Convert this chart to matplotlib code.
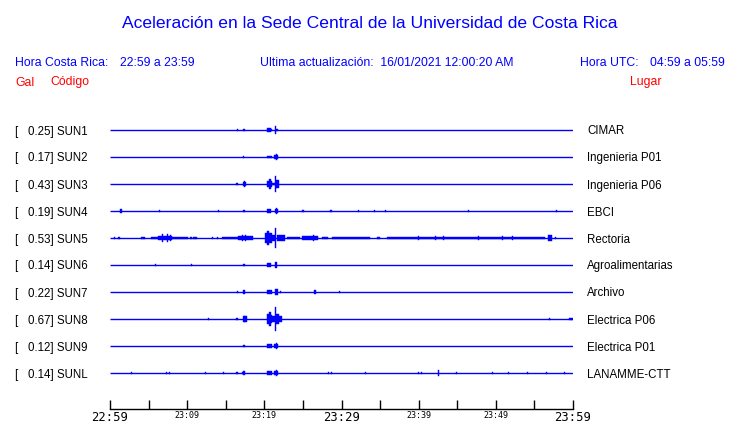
import matplotlib
matplotlib.use("Agg")
import matplotlib.pyplot as plt

# stations, top to bottom
codes = ["SUN1", "SUN2", "SUN3", "SUN4", "SUN5", "SUN6", "SUN7", "SUN8", "SUN9", "SUNL"]
gals = [0.25, 0.17, 0.43, 0.19, 0.53, 0.14, 0.22, 0.67, 0.12, 0.14]
places = ["CIMAR", "Ingenieria P01", "Ingenieria P06", "EBCI", "Rectoria",
          "Agroalimentarias", "Archivo", "Electrica P06", "Electrica P01", "LANAMME-CTT"]

# time axis, minutes after 22:59
tick_minutes = [0, 10, 20, 30, 40, 50, 60]
tick_labels = ["22:59", "23:09", "23:19", "23:29", "23:39", "23:49", "23:59"]
minor_minutes = [5, 15, 25, 35, 45, 55]

# bursts per trace: (start minute, end minute, half amplitude in row units)
sun1 = [(16.42, 16.42, 0.02), (17.24, 17.46, 0.05), (20.35, 20.83, 0.085),
        (20.83, 20.99, 0.04), (21.38, 21.55, 0.15), (21.55, 21.77, 0.055)]
sun2 = [(17.24, 17.40, 0.05), (20.35, 20.95, 0.05), (21.29, 21.81, 0.075),
        (21.47, 21.55, 0.12)]
sun3 = [(16.33, 16.55, 0.05), (17.20, 17.66, 0.075), (17.33, 17.46, 0.12),
        (20.35, 20.54, 0.12), (20.54, 20.80, 0.18), (20.80, 20.99, 0.10),
        (20.99, 21.38, 0.05), (21.38, 21.55, 0.31), (21.55, 21.90, 0.15)]
sun4 = [(1.26, 1.59, 0.075), (6.39, 6.39, 0.05), (13.96, 13.96, 0.05),
        (17.27, 17.46, 0.05), (20.31, 20.83, 0.075), (21.34, 21.77, 0.08),
        (21.47, 21.55, 0.12), (24.92, 25.14, 0.05), (28.55, 28.73, 0.05),
        (32.18, 32.18, 0.02), (34.21, 34.38, 0.05), (35.68, 35.68, 0.025),
        (46.39, 46.39, 0.05), (57.84, 57.84, 0.05)]
sun5 = [(0.56, 0.56, 0.02), (1.00, 1.26, 0.05), (4.02, 4.54, 0.05),
        (5.31, 6.26, 0.05), (6.26, 8.00, 0.075), (6.70, 6.70, 0.15),
        (7.35, 7.35, 0.13), (7.78, 7.78, 0.10), (8.00, 10.15, 0.05),
        (10.37, 10.59, 0.04), (10.79, 11.24, 0.05), (13.26, 13.26, 0.04),
        (13.83, 14.03, 0.025), (14.48, 16.63, 0.05), (16.63, 18.57, 0.075),
        (17.07, 17.07, 0.11), (17.46, 17.46, 0.12), (20.09, 20.95, 0.20),
        (20.41, 20.41, 0.25), (20.95, 21.38, 0.11), (21.42, 21.55, 0.37),
        (21.60, 22.68, 0.11), (22.90, 24.62, 0.05), (24.84, 26.99, 0.06),
        (26.35, 26.35, 0.12), (27.43, 28.29, 0.05), (28.73, 33.69, 0.05),
        (34.56, 34.99, 0.05), (35.86, 56.37, 0.05), (39.95, 39.95, 0.09),
        (42.12, 42.12, 0.09), (43.19, 43.19, 0.09), (47.73, 47.73, 0.09),
        (50.76, 50.76, 0.09), (52.06, 52.06, 0.09), (56.80, 57.24, 0.12),
        (57.67, 57.67, 0.025)]
sun6 = [(5.83, 6.00, 0.05), (10.50, 10.67, 0.05), (17.27, 17.46, 0.05),
        (20.31, 20.83, 0.075), (21.38, 21.64, 0.10)]
sun7 = [(16.42, 16.42, 0.05), (17.24, 17.46, 0.06), (20.31, 20.95, 0.075),
        (21.38, 21.73, 0.12), (22.03, 22.03, 0.04), (26.44, 26.66, 0.06),
        (29.72, 29.72, 0.05)]
sun8 = [(12.74, 12.74, 0.05), (16.33, 16.55, 0.05), (17.24, 17.75, 0.10),
        (17.33, 17.46, 0.12), (20.31, 20.54, 0.20), (20.54, 20.80, 0.26),
        (20.80, 20.99, 0.15), (20.99, 21.42, 0.10), (21.42, 21.55, 0.45),
        (21.55, 21.90, 0.20), (21.90, 22.33, 0.10), (56.93, 56.93, 0.025),
        (59.52, 60.00, 0.05)]
sun9 = [(17.24, 17.46, 0.05), (20.31, 20.95, 0.065), (21.29, 21.81, 0.075),
        (21.47, 21.55, 0.10)]
sunl = [(2.68, 2.68, 0.05), (7.30, 7.30, 0.025), (7.65, 7.65, 0.025),
        (12.35, 12.35, 0.04), (14.68, 14.68, 0.02), (16.33, 16.55, 0.05),
        (17.07, 17.07, 0.02), (17.24, 17.46, 0.06), (20.31, 20.95, 0.065),
        (21.29, 21.81, 0.09), (21.47, 21.55, 0.12), (28.29, 28.29, 0.025),
        (28.68, 28.68, 0.025), (33.08, 33.08, 0.025), (39.95, 39.95, 0.04),
        (40.30, 40.30, 0.04), (42.47, 42.67, 0.10), (44.84, 44.84, 0.04),
        (49.54, 49.54, 0.025), (51.62, 51.62, 0.025), (54.08, 54.08, 0.025),
        (56.54, 56.54, 0.025), (58.87, 58.87, 0.025)]
bursts = [sun1, sun2, sun3, sun4, sun5, sun6, sun7, sun8, sun9, sunl]

W, H = 740, 423
FONT = "Liberation Sans"


def px(x, y):
    # pixel position -> figure fraction
    return x / W, 1 - y / H


def put(x, y, s, color="black", size=8.3, ha="left"):
    # va=center sits a bit high for these fonts, nudge down
    fx, fy = px(x, y + 1.5)
    fig.text(fx, fy, s, color=color, fontsize=size, ha=ha, va="center", family=FONT)


fig = plt.figure(figsize=(W / 100, H / 100), dpi=100)

# header
put(370, 22, "Aceleración en la Sede Central de la Universidad de Costa Rica", "blue", 12.6, "center")
put(15, 61, "Hora Costa Rica:", "blue", 8.8)
put(120, 61, "22:59 a 23:59", "blue", 8.8)
put(260, 61, "Ultima actualización:  16/01/2021 12:00:20 AM", "blue", 8.8)
put(580, 61, "Hora UTC:", "blue", 8.8)
put(650, 61, "04:59 a 05:59", "blue", 8.8)
put(15, 81, "Gal", "red", 8.8)
put(50, 81, "Código", "red", 8.8)
put(630, 81, "Lugar", "red", 8.8)

# trace area: x 110..573 px, y 116..409 px
left, bottom = px(110, 409)
_, top = px(110, 116)
ax = fig.add_axes([left, bottom, 463 / W, top - bottom])
ax.set_xlim(0, 60)
ax.set_ylim(-10.333, 0.5185)

for i in range(len(codes)):
    row = -i
    ax.hlines(row, 0, 60, color="blue", linewidth=1)
    for t0, t1, amp in bursts[i]:
        ax.bar(t0, 2 * amp, width=max(t1 - t0, 0.13), bottom=row - amp,
               align="edge", color="blue", edgecolor="blue", linewidth=0.3)
    put(15, 130 + 27 * i, "[%7.2f] %s" % (gals[i], codes[i]))
    put(587, 130 + 27 * i, places[i])

for s in ["left", "top", "right"]:
    ax.spines[s].set_visible(False)
ax.spines["bottom"].set_linewidth(1)
ax.set_yticks([])
ax.set_xticks(tick_minutes)
ax.set_xticklabels(tick_labels, family="DejaVu Sans Mono")
ax.set_xticks(minor_minutes, minor=True)
ax.tick_params(axis="x", which="both", direction="in", length=6.7, width=1, pad=1.5)
for lab, m in zip(ax.get_xticklabels(), tick_minutes):
    if m % 30 == 0:
        lab.set_fontsize(8.8)
    else:
        lab.set_fontsize(6)

fig.savefig("out.png", dpi=100)
plt.close(fig)
